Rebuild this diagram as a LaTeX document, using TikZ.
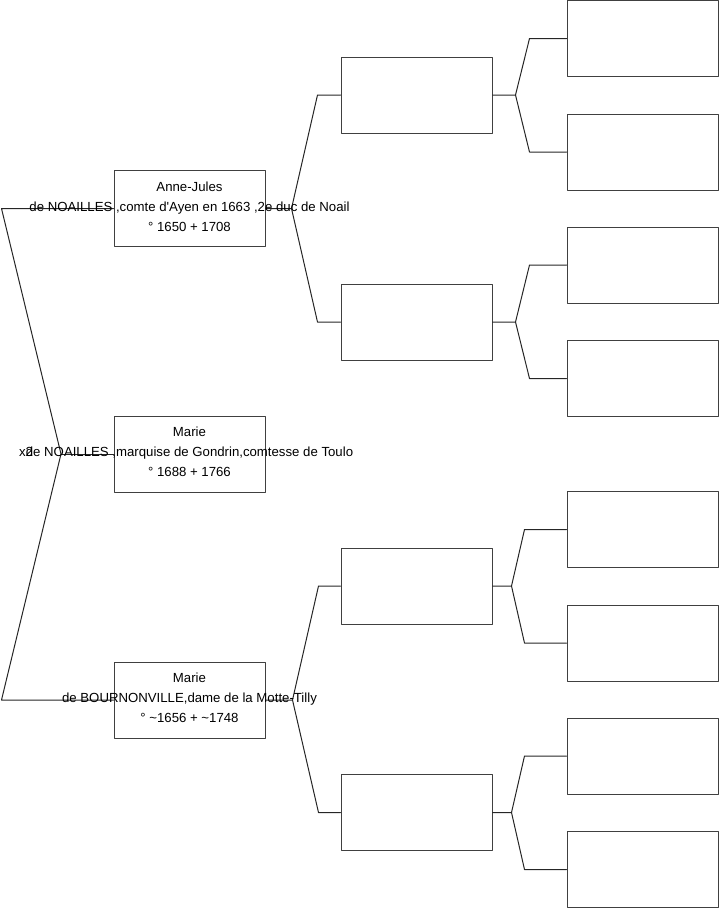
\documentclass[tikz,border=0pt]{standalone}
\usepackage{fontspec}
\setmainfont{Liberation Sans}
\begin{document}
\begin{tikzpicture}[x=1pt,y=-1pt,line join=round,line cap=round,
        boite/.style={draw=black!75,line width=1pt,minimum width=151pt,
            minimum height=76pt,inner sep=0pt},
        texte/.style={align=center,inner sep=0pt,
            font=\fontsize{13.2}{20}\selectfont},
        trait/.style={line width=1pt,black!85}]
    \useasboundingbox (0,0) rectangle (719,908);

    % 1re génération : les trois personnes
    \node[boite] (p1) at (189.5,208.5) {};
    \node[boite] (p2) at (189.5,454) {};
    \node[boite] (p3) at (189.5,700) {};

    % 2e génération : parents de Anne-Jules et de Marie de Bournonville
    \node[boite] (g1) at (416.5,95) {};
    \node[boite] (g2) at (416.5,322) {};
    \node[boite] (g3) at (416.5,586) {};
    \node[boite] (g4) at (416.5,812.5) {};

    % 3e génération, cases vides
    \node[boite] (h1) at (642.5,38.5) {};
    \node[boite] (h2) at (642.5,152) {};
    \node[boite] (h3) at (642.5,265) {};
    \node[boite] (h4) at (642.5,378.5) {};
    \node[boite] (h5) at (642.5,529.5) {};
    \node[boite] (h6) at (642.5,643) {};
    \node[boite] (h7) at (642.5,756) {};
    \node[boite] (h8) at (642.5,869.5) {};

    % le couple et l'enfant, à gauche
    \coordinate (mariage) at (61,454);
    \draw[trait] (p1.west) -- ++(-112,0) -- (mariage)
        -- ([xshift=-112pt]p3.west) -- (p3.west);
    \draw[trait] (mariage) -- (p2.west);
    \node[texte] (x2) at (26,452) {x2};

    % vers la 2e génération
    \draw[trait] (p1.east) -- ++(26,0) coordinate (a1)
        -- ([xshift=-23pt]g1.west) -- (g1.west);
    \draw[trait] (a1) -- ([xshift=-23pt]g2.west) -- (g2.west);
    \draw[trait] (p3.east) -- ++(27,0) coordinate (a3)
        -- ([xshift=-22pt]g3.west) -- (g3.west);
    \draw[trait] (a3) -- ([xshift=-22pt]g4.west) -- (g4.west);

    % vers la 3e génération
    \draw[trait] (g1.east) -- ++(23,0) coordinate (b1)
        -- ([xshift=-37pt]h1.west) -- (h1.west);
    \draw[trait] (b1) -- ([xshift=-37pt]h2.west) -- (h2.west);
    \draw[trait] (g2.east) -- ++(23,0) coordinate (b2)
        -- ([xshift=-37pt]h3.west) -- (h3.west);
    \draw[trait] (b2) -- ([xshift=-37pt]h4.west) -- (h4.west);
    \draw[trait] (g3.east) -- ++(19,0) coordinate (b3)
        -- ([xshift=-42pt]h5.west) -- (h5.west);
    \draw[trait] (b3) -- ([xshift=-42pt]h6.west) -- (h6.west);
    \draw[trait] (g4.east) -- ++(19,0) coordinate (b4)
        -- ([xshift=-42pt]h7.west) -- (h7.west);
    \draw[trait] (b4) -- ([xshift=-42pt]h8.west) -- (h8.west);

    % textes des personnes
    \node[texte] (t1) at ([yshift=1.5pt]p1) {Anne-Jules\\
        de NOAILLES ,comte d\textquotesingle Ayen en 1663 ,2e duc de Noail\\
        ° 1650 + 1708};
    \node[texte] (t2) at ([yshift=2pt]p2) {Marie\\
        de NOAILLES ,marquise de Gondrin,comtesse de Toulo\\
        ° 1688 + 1766};
    \node[texte] (t3) at ([yshift=2pt]p3) {Marie\\
        de BOURNONVILLE,dame de la Motte-Tilly\\
        ° \textasciitilde1656 + \textasciitilde1748};
\end{tikzpicture}
\end{document}
